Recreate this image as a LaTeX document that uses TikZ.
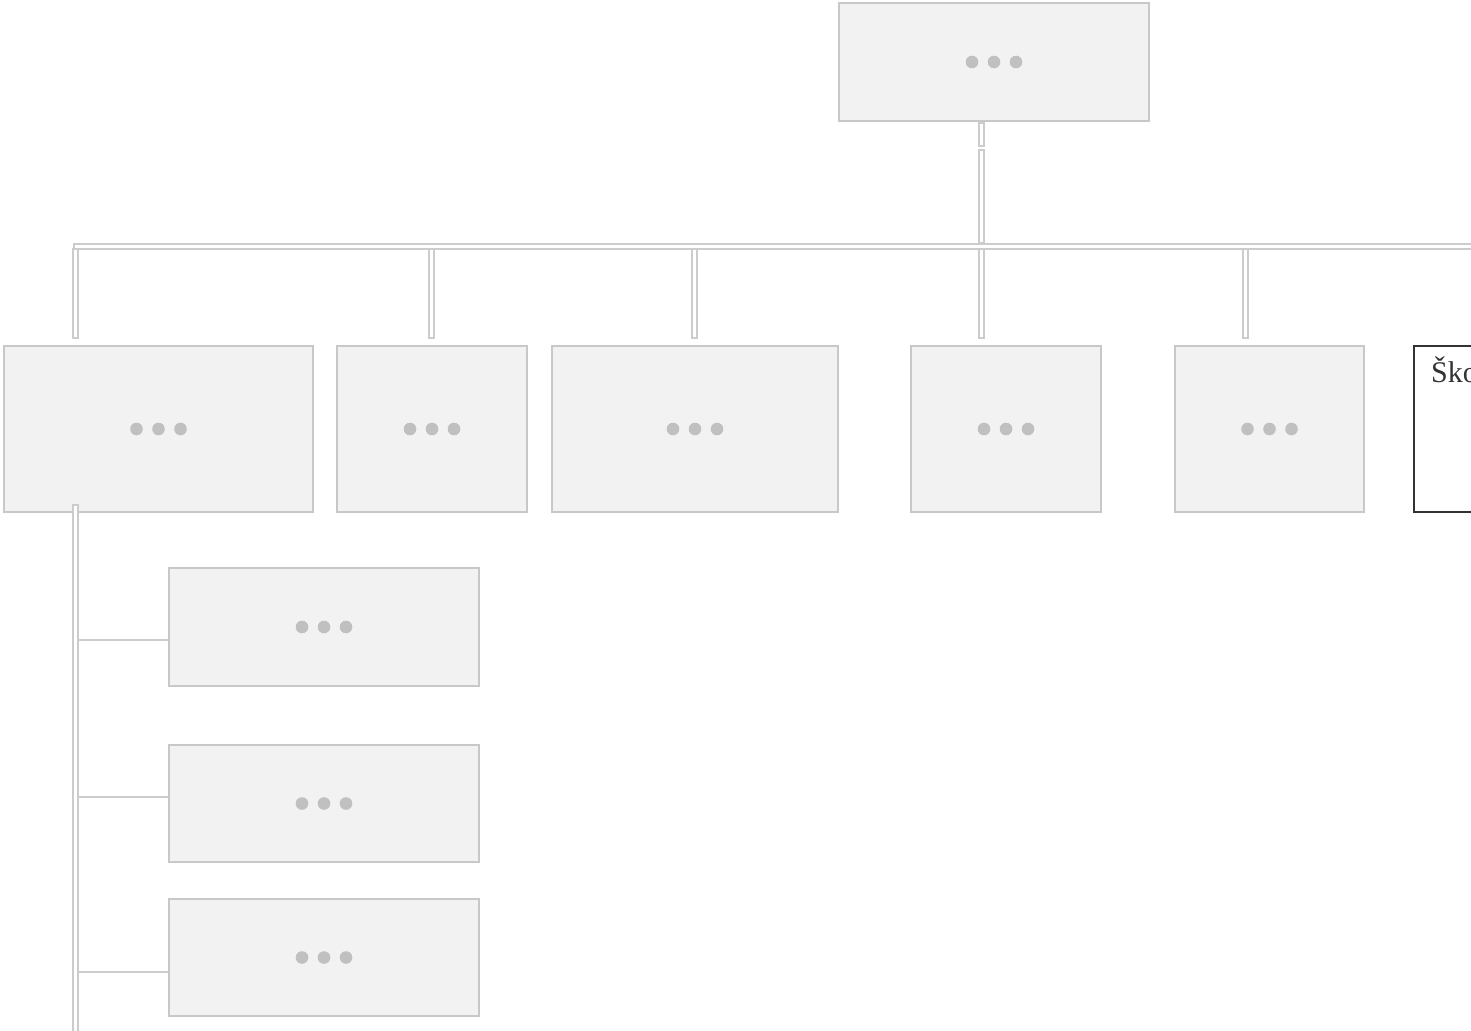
\documentclass[tikz,border=0pt]{standalone}
\usepackage{fontspec}
\setmainfont{Liberation Serif}
\usetikzlibrary{calc}
\definecolor{boxfill}{HTML}{F2F2F2}
\definecolor{boxline}{HTML}{C8C8C8}
\definecolor{conn}{HTML}{CCCCCC}
\definecolor{dotc}{HTML}{C0C0C0}
\definecolor{darkline}{HTML}{333333}
\begin{document}
\begin{tikzpicture}[x=1pt,y=-1pt,
  card/.style={draw=boxline, fill=boxfill, line width=2pt, inner sep=0pt},
  pipe/.style={draw=conn, fill=white, line width=2pt},
  branch/.style={draw=conn, line width=2pt},
  dotmark/.style={fill=dotc}]
\useasboundingbox (0,0) rectangle (1471,1030);
\clip (0,0) rectangle (1471,1030);
% boxes
\node[card, minimum width=310pt, minimum height=118pt] (top) at (994,62) {};
\node[card, minimum width=309pt, minimum height=166pt] (b1) at (158.5,429) {};
\node[card, minimum width=190pt, minimum height=166pt] (b2) at (432,429) {};
\node[card, minimum width=286pt, minimum height=166pt] (b3) at (695,429) {};
\node[card, minimum width=190pt, minimum height=166pt] (b4) at (1006,429) {};
\node[card, minimum width=189pt, minimum height=166pt] (b5) at (1269.5,429) {};
\node[draw=darkline, fill=white, line width=2pt, minimum width=200pt, minimum height=166pt, inner sep=0pt] (b6) at (1514,429) {};
\node[anchor=base west, inner sep=0pt, font=\fontsize{30}{34}\selectfont, text=darkline] (b6t) at ($(b6.north west)+(18,37)$) {Škola};
\node[card, minimum width=310pt, minimum height=118pt] (c1) at (324,627) {};
\node[card, minimum width=310pt, minimum height=117pt] (c2) at (324,803.5) {};
\node[card, minimum width=310pt, minimum height=117pt] (c3) at (324,957.5) {};
% dots
\foreach \n in {top,b1,b2,b3,b4,b5,c1,c2,c3}{
  \fill[dotmark] ($(\n.center)+(-22,0)$) circle (6.3pt);
  \fill[dotmark] (\n.center) circle (6.3pt);
  \fill[dotmark] ($(\n.center)+(22,0)$) circle (6.3pt);
}
% connectors from top
\coordinate (tx) at (981,0);
\path[pipe] ($(top.south -| tx)+(-2.5,1.5)$) rectangle ($(top.south -| tx)+(2.5,23.5)$);
\path[pipe] ($(top.south -| tx)+(-2.5,28)$) rectangle ($(top.south -| tx)+(2.5,121)$);
% horizontal bar
\coordinate (barL) at (74,244);
\path[pipe] (barL) rectangle (1480,248.5);
% drops
\foreach \x/\b in {75.5/b1,431.5/b2,694/b3,981/b4,1245/b5}{
  \path[pipe] ($(\b.north -| \x,0)+(-2.5,-96.5)$) rectangle ($(\b.north -| \x,0)+(2.5,-7)$);
}
% left spine
\coordinate (sp) at (75.5,0);
\path[pipe] ($(b1.south -| sp)+(-2.5,-8.5)$) rectangle ($(b1.south -| sp)+(2.5,530)$);
\coordinate (k1) at (78,639.5);
\coordinate (k2) at (78,797);
\coordinate (k3) at (78,972);
\draw[branch] (k1) -- (k1 -| c1.west);
\draw[branch] (k2) -- (k2 -| c2.west);
\draw[branch] (k3) -- (k3 -| c3.west);
\end{tikzpicture}
\end{document}
